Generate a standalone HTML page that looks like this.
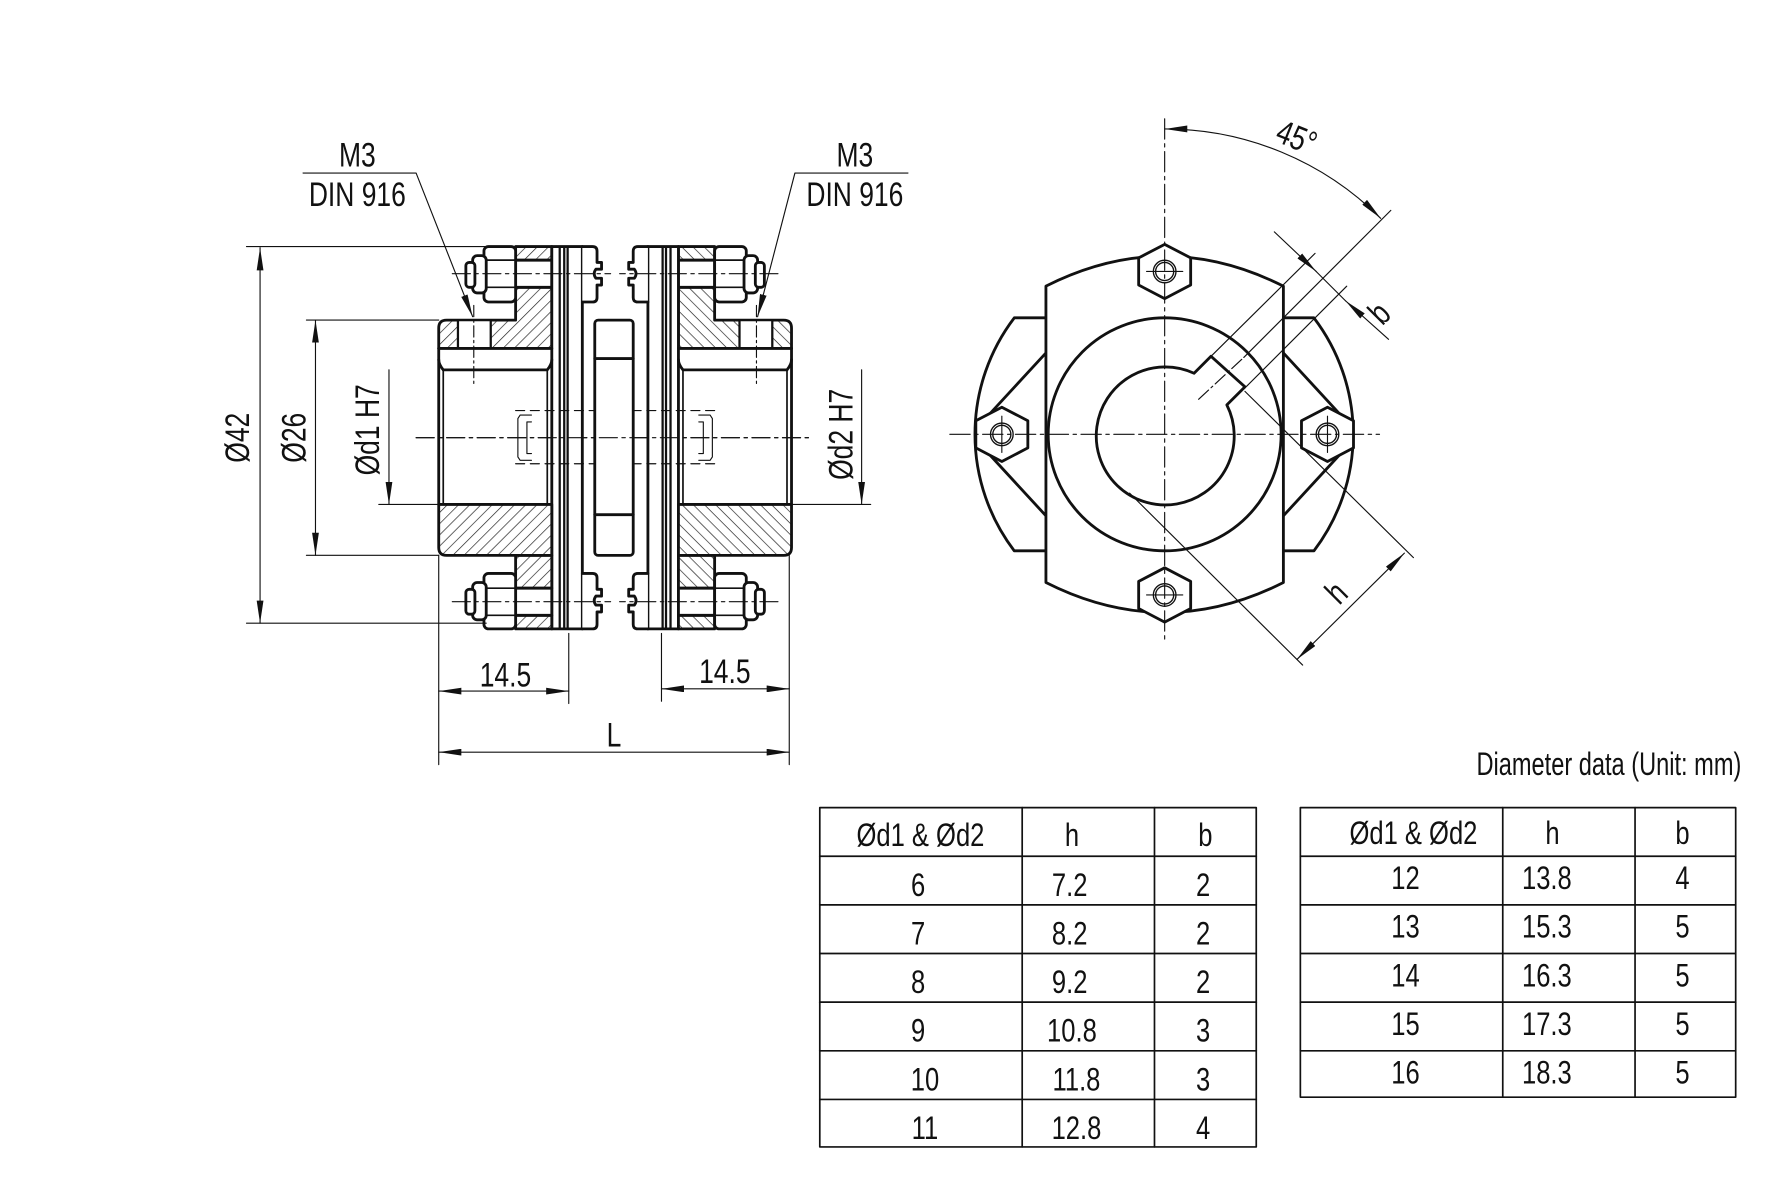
<!DOCTYPE html>
<html><head><meta charset="utf-8"><style>
html,body{margin:0;padding:0;background:#fff;}
svg{display:block;}
text{font-family:"Liberation Sans Narrow","Liberation Sans",sans-serif;fill:#111;}
</style></head><body>
<svg width="1773" height="1182" viewBox="0 0 1568 1045" preserveAspectRatio="none" xmlns="http://www.w3.org/2000/svg">
<defs>
<pattern id="h" patternUnits="userSpaceOnUse" width="7" height="7" patternTransform="rotate(45)">
<rect width="7" height="7" fill="#fff"/><line x1="0" y1="0" x2="0" y2="7" stroke="#222" stroke-width="1.2"/>
</pattern>
<marker id="a" viewBox="0 0 20 6" refX="20" refY="3" markerWidth="20" markerHeight="6" markerUnits="userSpaceOnUse" orient="auto-start-reverse">
<path d="M0,0 L20,3 L0,6 z" fill="#111"/></marker>
</defs>
<g fill="none" stroke="#111" stroke-linecap="round" stroke-linejoin="round">

<line x1="368" y1="387" x2="718" y2="387" stroke-width="1" stroke-dasharray="16,4,3,4"/>
<g id="LB">
 <path d="M388,290 Q388,283 395,283 L456,283 L456,267 L456,254 L488,254 L488,308 L388,308 Z" fill="url(#h)" stroke-width="2.5"/>
 <rect x="456" y="218" width="32" height="12" fill="url(#h)" stroke-width="2.5"/>
 <rect x="405" y="283" width="29" height="25" fill="#fff" stroke-width="2"/>
 <line x1="419" y1="270" x2="419" y2="340" stroke-width="1" stroke-dasharray="10,3,2,3"/>
 <rect x="456" y="230" width="32" height="24" fill="#fff" stroke-width="2.5"/>
 <rect x="428" y="218" width="28" height="49" rx="4" fill="#fff" stroke-width="2.5"/>
 <line x1="428" y1="230" x2="456" y2="230" stroke-width="1.5"/>
 <line x1="428" y1="254" x2="456" y2="254" stroke-width="1.5"/>
 <rect x="418" y="226" width="12" height="33" rx="4" fill="#fff" stroke-width="2.5"/>
 <rect x="412" y="232" width="8" height="22" rx="3" fill="#fff" stroke-width="2.5"/>
 <rect x="488" y="218" width="27" height="338" fill="#fff" stroke-width="2.5"/>
 <line x1="495" y1="218" x2="495" y2="556" stroke-width="2"/>
 <line x1="499" y1="218" x2="499" y2="556" stroke-width="2"/>
 <line x1="502" y1="218" x2="502" y2="556" stroke-width="2"/>
 <path d="M515,218 L524,218 Q528,218 528,222 L528,232 L532,232 L532,238 L527,238 Q524,242 527,246 L532,246 L532,252 L528,252 L528,263 Q528,267 524,267 L515,267" fill="#fff" stroke-width="2.5"/>
 <line x1="400" y1="242" x2="540" y2="242" stroke-width="1" stroke-dasharray="16,4,3,4"/>
 <path d="M456,491 L456,507 L456,520 L488,520 L488,491 Z" fill="url(#h)" stroke-width="2.5"/>
 <rect x="456" y="544" width="32" height="12" fill="url(#h)" stroke-width="2.5"/>
 <rect x="456" y="520" width="32" height="24" fill="#fff" stroke-width="2.5"/>
 <rect x="428" y="507" width="28" height="49" rx="4" fill="#fff" stroke-width="2.5"/>
 <line x1="428" y1="520" x2="456" y2="520" stroke-width="1.5"/>
 <line x1="428" y1="544" x2="456" y2="544" stroke-width="1.5"/>
 <rect x="418" y="515" width="12" height="33" rx="4" fill="#fff" stroke-width="2.5"/>
 <rect x="412" y="521" width="8" height="22" rx="3" fill="#fff" stroke-width="2.5"/>
 <path d="M515,507 L524,507 Q528,507 528,511 L528,521 L532,521 L532,527 L527,527 Q524,531 527,535 L532,535 L532,541 L528,541 L528,552 Q528,556 524,556 L515,556" fill="#fff" stroke-width="2.5"/>
 <line x1="400" y1="532" x2="540" y2="532" stroke-width="1" stroke-dasharray="16,4,3,4"/>
 <path d="M388,446 L488,446 L488,491 L395,491 Q388,491 388,484 Z" fill="url(#h)" stroke-width="2.5"/>
 <path d="M388,308 L388,446" stroke-width="2.5"/>
 <path d="M392,327 L392,446" stroke-width="1.5"/>
 <path d="M388,308 L488,308 M392,327 Q388,322 388,318 M392,327 L484,327 Q488,322 488,318" stroke-width="2.5"/>
 <line x1="484" y1="327" x2="484" y2="446" stroke-width="1.5"/>
 <path d="M456,363 L544,363 M456,410 L544,410" stroke-width="1" stroke-dasharray="8,5"/>
 <path d="M470,367 L460,367 L458,370 L458,404 L460,407 L470,407 M470,373 L466,373 L466,401 L470,401" stroke-width="1"/>
</g>
<use href="#LB" transform="translate(1088,0) scale(-1,1)"/>
<rect x="526" y="283" width="34" height="208" rx="3" fill="#fff" stroke-width="2.5"/>
<line x1="526" y1="317" x2="560" y2="317" stroke-width="2.5"/>
<line x1="526" y1="455" x2="560" y2="455" stroke-width="2.5"/>
<line x1="368" y1="387" x2="718" y2="387" stroke-width="1" stroke-dasharray="16,4,3,4"/>

<g stroke-width="1">
 <line x1="218" y1="218" x2="500" y2="218"/>
 <line x1="218" y1="551" x2="430" y2="551"/>
 <line x1="230" y1="219" x2="230" y2="551" marker-start="url(#a)" marker-end="url(#a)"/>
 <line x1="271" y1="283" x2="388" y2="283"/>
 <line x1="271" y1="491" x2="388" y2="491"/>
 <line x1="279" y1="283" x2="279" y2="491" marker-start="url(#a)" marker-end="url(#a)"/>
 <line x1="335" y1="446" x2="388" y2="446"/>
 <line x1="344" y1="327" x2="344" y2="446" marker-end="url(#a)"/>
 <line x1="700" y1="446" x2="770" y2="446"/>
 <line x1="762" y1="327" x2="762" y2="446" marker-end="url(#a)"/>
 <line x1="388" y1="491" x2="388" y2="676"/>
 <line x1="698" y1="491" x2="698" y2="676"/>
 <line x1="503" y1="560" x2="503" y2="622"/>
 <line x1="585" y1="560" x2="585" y2="620"/>
 <line x1="388" y1="611" x2="503" y2="611" marker-start="url(#a)" marker-end="url(#a)"/>
 <line x1="585" y1="609" x2="698" y2="609" marker-start="url(#a)" marker-end="url(#a)"/>
 <line x1="388" y1="665" x2="698" y2="665" marker-start="url(#a)" marker-end="url(#a)"/>
 <polyline points="268,153 368,153 418,280" marker-end="url(#a)"/>
 <polyline points="803,153 703,153 670,280" marker-end="url(#a)"/>
</g>

<g stroke-width="2.5">
 <path d="M925,281 L897,281 A170,170 0 0 0 897,487 L925,487" fill="#fff"/>
 <path d="M1135,281 L1162,281 A170,170 0 0 1 1162,487 L1135,487" fill="#fff"/>
 <path d="M925,312 L866,376 M866,392 L925,456"/>
 <path d="M1135,312 L1194,376 M1194,392 L1135,456"/>
 <path d="M925,253 Q1030,200 1135,253 L1135,515 Q1030,568 925,515 Z" fill="#fff"/>
 <circle cx="1030" cy="384" r="103"/>
 <path d="M1056,330 L1071,315 L1101,342 L1085,358 A61,61 0 1 1 1056,330 Z"/>
</g>
<g stroke-width="2.5" fill="#fff">
 <polygon points="1030,216 1053,228 1053,252 1030,264 1007,252 1007,228"/>
 <polygon points="1030,502 1053,514 1053,538 1030,550 1007,538 1007,514"/>
 <polygon points="886,360 909,372 909,396 886,408 863,396 863,372"/>
 <polygon points="1174,360 1197,372 1197,396 1174,408 1151,396 1151,372"/>
</g>
<g stroke-width="1.2">
 <circle cx="1030" cy="240" r="10"/><circle cx="1030" cy="240" r="8"/>
 <circle cx="1030" cy="526" r="10"/><circle cx="1030" cy="526" r="8"/>
 <circle cx="886" cy="384" r="10"/><circle cx="886" cy="384" r="8"/>
 <circle cx="1174" cy="384" r="10"/><circle cx="1174" cy="384" r="8"/>
</g>
<g stroke-width="1">
 <line x1="1030" y1="105" x2="1030" y2="565" stroke-dasharray="18,4,3,4"/>
 <line x1="840" y1="384" x2="1220" y2="384" stroke-dasharray="18,4,3,4"/>
 <line x1="1014" y1="240" x2="1046" y2="240"/><line x1="1014" y1="526" x2="1046" y2="526"/>
 <line x1="886" y1="368" x2="886" y2="400"/><line x1="1174" y1="368" x2="1174" y2="400"/>
 <path d="M1030,114 A270,270 0 0 1 1221,193" marker-start="url(#a)" marker-end="url(#a)"/>
 <line x1="1060" y1="353" x2="1100" y2="316" stroke-dasharray="12,3,2,3"/>
 <line x1="1100" y1="316" x2="1230" y2="186"/>
 <line x1="1072" y1="314" x2="1163" y2="224"/>
 <line x1="1102" y1="342" x2="1191" y2="253"/>
 <line x1="1127" y1="205" x2="1164" y2="240" marker-end="url(#a)"/>
 <line x1="1228" y1="300" x2="1190" y2="266" marker-end="url(#a)"/>
 <line x1="1164" y1="240" x2="1190" y2="266"/>
 <line x1="999" y1="436" x2="1152" y2="588"/>
 <line x1="1101" y1="346" x2="1250" y2="493"/>
 <line x1="1147" y1="583" x2="1242" y2="489" marker-start="url(#a)" marker-end="url(#a)"/>
</g>

<g stroke-width="1.5">
 <rect x="725" y="714" width="386" height="300"/>
 <line x1="904" y1="714" x2="904" y2="1014"/><line x1="1021" y1="714" x2="1021" y2="1014"/>
 <line x1="725" y1="757" x2="1111" y2="757"/><line x1="725" y1="800" x2="1111" y2="800"/>
 <line x1="725" y1="843" x2="1111" y2="843"/><line x1="725" y1="886" x2="1111" y2="886"/>
 <line x1="725" y1="929" x2="1111" y2="929"/><line x1="725" y1="972" x2="1111" y2="972"/>
 <rect x="1150" y="714" width="385" height="256"/>
 <line x1="1329" y1="714" x2="1329" y2="970"/><line x1="1446" y1="714" x2="1446" y2="970"/>
 <line x1="1150" y1="757" x2="1535" y2="757"/><line x1="1150" y1="800" x2="1535" y2="800"/>
 <line x1="1150" y1="843" x2="1535" y2="843"/><line x1="1150" y1="886" x2="1535" y2="886"/>
 <line x1="1150" y1="929" x2="1535" y2="929"/>
</g>
</g>

<g font-size="30" text-anchor="middle">
 <text transform="translate(316,147) scale(0.78,1)">M3</text>
 <text transform="translate(316,182) scale(0.78,1)">DIN 916</text>
 <text transform="translate(756,147) scale(0.78,1)">M3</text>
 <text transform="translate(756,182) scale(0.78,1)">DIN 916</text>
 <text transform="translate(220,387) rotate(-90) scale(0.78,1)">Ø42</text>
 <text transform="translate(270,387) rotate(-90) scale(0.78,1)">Ø26</text>
 <text transform="translate(335,380) rotate(-90) scale(0.78,1)">Ød1 H7</text>
 <text transform="translate(754,384) rotate(-90) scale(0.78,1)">Ød2 H7</text>
 <text transform="translate(447,607) scale(0.78,1)">14.5</text>
 <text transform="translate(641,604) scale(0.78,1)">14.5</text>
 <text transform="translate(543,660) scale(0.78,1)">L</text>
 <text transform="translate(1143,131) rotate(22) scale(0.78,1)">45°</text>
 <text transform="translate(1227,284) rotate(-45) scale(0.78,1)">b</text>
 <text transform="translate(1189,531) rotate(-45) scale(0.78,1)">h</text>
</g>
<g font-size="29" text-anchor="middle">
 <text transform="translate(1540,685) scale(0.72,1)" text-anchor="end">Diameter data (Unit: mm)</text>
 <text transform="translate(814,748) scale(0.78,1)">Ød1 &amp; Ød2</text>
 <text transform="translate(948,748) scale(0.78,1)">h</text><text transform="translate(1066,748) scale(0.78,1)">b</text>
 <text transform="translate(812,792) scale(0.78,1)">6</text><text transform="translate(946,792) scale(0.78,1)">7.2</text><text transform="translate(1064,792) scale(0.78,1)">2</text>
 <text transform="translate(812,835) scale(0.78,1)">7</text><text transform="translate(946,835) scale(0.78,1)">8.2</text><text transform="translate(1064,835) scale(0.78,1)">2</text>
 <text transform="translate(812,878) scale(0.78,1)">8</text><text transform="translate(946,878) scale(0.78,1)">9.2</text><text transform="translate(1064,878) scale(0.78,1)">2</text>
 <text transform="translate(812,921) scale(0.78,1)">9</text><text transform="translate(948,921) scale(0.78,1)">10.8</text><text transform="translate(1064,921) scale(0.78,1)">3</text>
 <text transform="translate(818,964) scale(0.78,1)">10</text><text transform="translate(952,964) scale(0.78,1)">11.8</text><text transform="translate(1064,964) scale(0.78,1)">3</text>
 <text transform="translate(818,1007) scale(0.78,1)">11</text><text transform="translate(952,1007) scale(0.78,1)">12.8</text><text transform="translate(1064,1007) scale(0.78,1)">4</text>
 <text transform="translate(1250,746) scale(0.78,1)">Ød1 &amp; Ød2</text>
 <text transform="translate(1373,746) scale(0.78,1)">h</text><text transform="translate(1488,746) scale(0.78,1)">b</text>
 <text transform="translate(1243,786) scale(0.78,1)">12</text><text transform="translate(1368,786) scale(0.78,1)">13.8</text><text transform="translate(1488,786) scale(0.78,1)">4</text>
 <text transform="translate(1243,829) scale(0.78,1)">13</text><text transform="translate(1368,829) scale(0.78,1)">15.3</text><text transform="translate(1488,829) scale(0.78,1)">5</text>
 <text transform="translate(1243,872) scale(0.78,1)">14</text><text transform="translate(1368,872) scale(0.78,1)">16.3</text><text transform="translate(1488,872) scale(0.78,1)">5</text>
 <text transform="translate(1243,915) scale(0.78,1)">15</text><text transform="translate(1368,915) scale(0.78,1)">17.3</text><text transform="translate(1488,915) scale(0.78,1)">5</text>
 <text transform="translate(1243,958) scale(0.78,1)">16</text><text transform="translate(1368,958) scale(0.78,1)">18.3</text><text transform="translate(1488,958) scale(0.78,1)">5</text>
</g>
</svg>
</body></html>
